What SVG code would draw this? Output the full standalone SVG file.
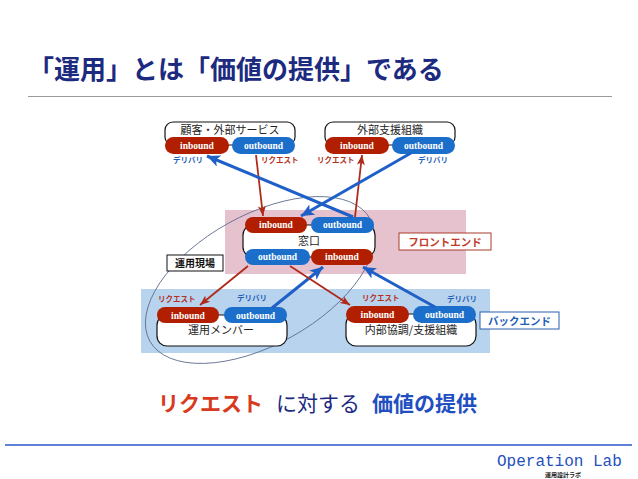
<svg xmlns="http://www.w3.org/2000/svg" width="638" height="479" viewBox="0 0 638 479">
<defs>
<style>
.jp{font-family:"Noto Sans CJK JP","Noto Sans",sans-serif}
.box{fill:#fff;stroke:#111;stroke-width:1.2}
.in{fill:#b11f00}
.out{fill:#1b6fcb}
.pt{font-family:"Liberation Serif",serif;font-weight:bold;font-size:9.5px;fill:#fff;text-anchor:middle}
.nl{font-family:"Noto Sans CJK JP",sans-serif;font-size:11px;fill:#222;text-anchor:middle}
.req{font-family:"Noto Sans CJK JP",sans-serif;font-size:7.5px;font-weight:bold;fill:#b5301e}
.del{font-family:"Noto Sans CJK JP",sans-serif;font-size:7.5px;font-weight:bold;fill:#1f5fb8}
.ra{stroke:#b02a1a;stroke-width:1.8;fill:none;marker-end:url(#ar)}
.ba{stroke:#1f5fc8;stroke-width:3;fill:none;marker-end:url(#ab)}
</style>
<marker id="ar" markerUnits="userSpaceOnUse" markerWidth="10" markerHeight="10" viewBox="0 0 10 10" refX="10" refY="5" orient="auto"><path d="M0,1 L10,5 L0,9 L2.5,5 z" fill="#b02a1a"/></marker>
<marker id="ab" markerUnits="userSpaceOnUse" markerWidth="13" markerHeight="13" viewBox="0 0 10 10" refX="10" refY="5" orient="auto"><path d="M0,0.5 L10,5 L0,9.5 L2.5,5 z" fill="#1f5fc8"/></marker>
</defs>
<rect width="638" height="479" fill="#fff"/>
<text x="28" y="79" class="jp" font-size="26" font-weight="bold" fill="#1c2a80">「運用」とは「価値の提供」である</text>
<line x1="28" y1="96.5" x2="612" y2="96.5" stroke="#9a9a9a" stroke-width="1"/>

<g id="bands">
<rect x="225" y="210" width="241" height="64" fill="#e6c2cf"/>
<rect x="141" y="289" width="349" height="64" fill="#b8d3ee"/>
</g>
<ellipse id="genba-ellipse" cx="260" cy="280" rx="126" ry="65" transform="rotate(-29 260 280)" fill="none" stroke="#5a6a8a" stroke-width="0.8"/>

<g id="node-kokyaku">
<rect class="box" x="165" y="122" width="130" height="23" rx="8"/>
<text class="nl" x="230" y="134">顧客・外部サービス</text>
<rect class="in" x="165" y="137" width="64" height="17" rx="8.5"/>
<text class="pt" x="197" y="148.5">inbound</text>
<rect class="out" x="232" y="137" width="63" height="17" rx="8.5"/>
<text class="pt" x="263.5" y="148.5">outbound</text>
<text class="del" x="173" y="163">デリバリ</text>
<text class="req" x="261" y="163">リクエスト</text>
</g>

<g id="node-gaibu">
<rect class="box" x="325" y="122" width="130" height="23" rx="8"/>
<text class="nl" x="390" y="134">外部支援組織</text>
<rect class="in" x="325" y="137" width="64" height="17" rx="8.5"/>
<text class="pt" x="357" y="148.5">inbound</text>
<rect class="out" x="392" y="137" width="63" height="17" rx="8.5"/>
<text class="pt" x="423.5" y="148.5">outbound</text>
<text class="req" x="317" y="163">リクエスト</text>
<text class="del" x="418" y="163">デリバリ</text>
</g>

<g id="node-madoguchi">
<rect class="box" x="243" y="225" width="132" height="32" rx="10"/>
<text class="nl" x="309" y="245">窓口</text>
<rect class="in" x="245" y="217" width="62" height="16" rx="8"/>
<text class="pt" x="276" y="228">inbound</text>
<rect class="out" x="311" y="217" width="63" height="16" rx="8"/>
<text class="pt" x="342.5" y="228">outbound</text>
<rect class="out" x="245" y="249" width="65" height="16" rx="8"/>
<text class="pt" x="277.5" y="260">outbound</text>
<rect class="in" x="311" y="249" width="62" height="16" rx="8"/>
<text class="pt" x="342" y="260">inbound</text>
</g>

<g id="node-member">
<rect class="box" x="157" y="315" width="130" height="31" rx="10"/>
<text class="nl" x="221" y="334" font-size="11.5">運用メンバー</text>
<rect class="in" x="157" y="307" width="62" height="16" rx="8"/>
<text class="pt" x="188" y="318.5">inbound</text>
<rect class="out" x="224" y="307" width="63" height="16" rx="8"/>
<text class="pt" x="255.5" y="318.5">outbound</text>
<text class="req" x="158" y="302">リクエスト</text>
<text class="del" x="237" y="301">デリバリ</text>
</g>

<g id="node-naibu">
<rect class="box" x="346" y="314" width="130" height="32" rx="10"/>
<text class="nl" x="411" y="334" font-size="11.5">内部協調/支援組織</text>
<rect class="in" x="346" y="306" width="63" height="17" rx="8.5"/>
<text class="pt" x="377.5" y="318">inbound</text>
<rect class="out" x="413" y="306" width="63" height="17" rx="8.5"/>
<text class="pt" x="444.5" y="318">outbound</text>
<text class="req" x="362" y="301">リクエスト</text>
<text class="del" x="447" y="302">デリバリ</text>
</g>

<g id="connectors">
<line class="ra" x1="256" y1="155" x2="263" y2="216"/>
<line class="ba" x1="353" y1="217" x2="207" y2="156"/>
<line class="ra" x1="355" y1="217" x2="362" y2="155"/>
<line class="ba" x1="411" y1="153" x2="301" y2="216"/>
<line class="ra" x1="248" y1="266" x2="200" y2="305"/>
<line class="ba" x1="272" y1="308" x2="323" y2="267"/>
<line class="ra" x1="290" y1="266" x2="350" y2="305"/>
<line class="ba" x1="435" y1="307" x2="363" y2="267"/>
</g>

<g id="label-genba">
<rect x="167" y="255" width="56" height="16" fill="#fff" stroke="#111" stroke-width="1"/>
<text x="195" y="267" class="jp" font-size="10" font-weight="bold" fill="#111" text-anchor="middle">運用現場</text>
</g>
<g id="label-front">
<rect x="399" y="233" width="92" height="17" fill="#fff" stroke="#a83a2c" stroke-width="1"/>
<text x="445" y="246" class="jp" font-size="10.5" font-weight="bold" fill="#c23a2a" text-anchor="middle">フロントエンド</text>
</g>
<g id="label-back">
<rect x="480" y="312" width="79" height="17" fill="#fff" stroke="#2a5fb0" stroke-width="1"/>
<text x="519.5" y="325" class="jp" font-size="10.5" font-weight="bold" fill="#1f5fb8" text-anchor="middle">バックエンド</text>
</g>

<text x="158" y="411" class="jp" font-size="21"><tspan font-weight="bold" fill="#d83a1e">リクエスト</tspan><tspan x="276" fill="#1c2a80">に対する</tspan><tspan x="372" font-weight="bold" fill="#1f4fc0">価値の提供</tspan></text>

<line x1="5" y1="445" x2="632" y2="445" stroke="#2a56c8" stroke-width="1.5"/>
<text x="497" y="466" font-family="Liberation Mono, monospace" font-size="16" fill="#1f4fc0">Operation Lab</text>
<text x="563" y="477" class="jp" font-size="6" font-weight="bold" fill="#222" text-anchor="middle">運用設計ラボ</text>
</svg>
